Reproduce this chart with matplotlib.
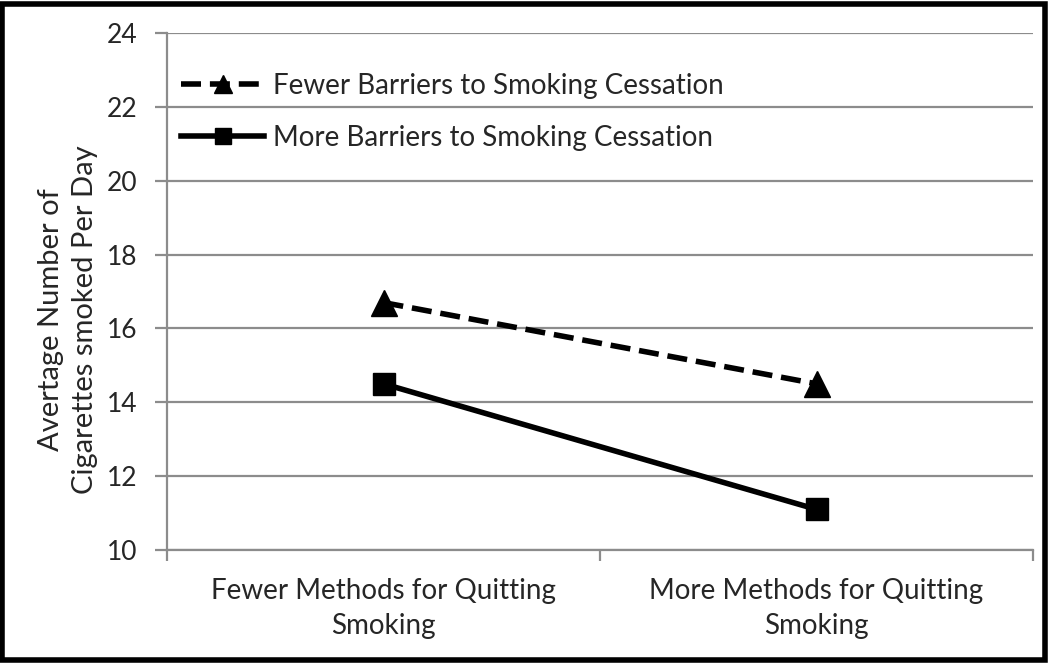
import matplotlib
matplotlib.use("Agg")
import matplotlib.pyplot as plt
from matplotlib.patches import Rectangle

categories = ["Fewer Methods for Quitting\nSmoking", "More Methods for Quitting\nSmoking"]
fewer_barriers = [16.7, 14.5]
more_barriers = [14.5, 11.1]
series_names = ["Fewer Barriers to Smoking Cessation", "More Barriers to Smoking Cessation"]
yticks = [10, 12, 14, 16, 18, 20, 22, 24]
ylabel = "Avertage Number of\nCigarettes smoked Per Day"

plt.rcParams['font.family'] = ['Lato', 'DejaVu Sans']

fig = plt.figure(figsize=(10.5, 6.63), dpi=100)
ax = fig.add_axes([167/1050, 1 - 550/663, (1033-167)/1050, (550-33)/663])

x = [0.5, 1.5]
ax.plot(x, fewer_barriers, color='black', lw=4, ls=(0, (3.6, 1.6)), marker='^', ms=19,
        label=series_names[0], zorder=3)
ax.plot(x, more_barriers, color='black', lw=4, marker='s', ms=16,
        label=series_names[1], zorder=3)

ax.set_xlim(0, 2)
ax.set_ylim(10, 24)
ax.set_yticks(yticks)
ax.set_yticklabels([str(v) for v in yticks], fontsize=19, color='#262626')
ax.yaxis.grid(True, color='#8c8c8c', lw=1.6)
ax.set_axisbelow(True)

ax.set_xticks([0, 1, 2])
ax.set_xticklabels([])
ax.set_xticks(x, minor=True)
ax.set_xticklabels(categories, minor=True, fontsize=20, color='#262626', linespacing=1.45)
ax.tick_params(axis='x', which='minor', length=0, pad=20)
ax.tick_params(axis='x', which='major', length=8, width=1.6, color='#8c8c8c', direction='out')
ax.tick_params(axis='y', length=9, width=1.6, color='#8c8c8c', direction='out', pad=12)

for s in ['top', 'right']:
    ax.spines[s].set_visible(False)
for s in ['left', 'bottom']:
    ax.spines[s].set_color('#8c8c8c')
    ax.spines[s].set_linewidth(1.6)

fig.text(68/1050, 1 - 320/663, ylabel, rotation=90, ha='center', va='center',
         fontsize=21, color='#262626', linespacing=1.35)

leg = ax.legend(loc='upper left', bbox_to_anchor=(0.0, 0.95), frameon=False, fontsize=20,
                handlelength=3.0, labelspacing=0.95, handletextpad=0.3, borderaxespad=0.1,
                labelcolor='#262626', markerscale=0.7)

fig.patches.append(Rectangle((0.002, 0.004), 0.993, 0.99, transform=fig.transFigure,
                             fill=False, edgecolor='black', lw=4))

fig.savefig("out.png", dpi=100)
